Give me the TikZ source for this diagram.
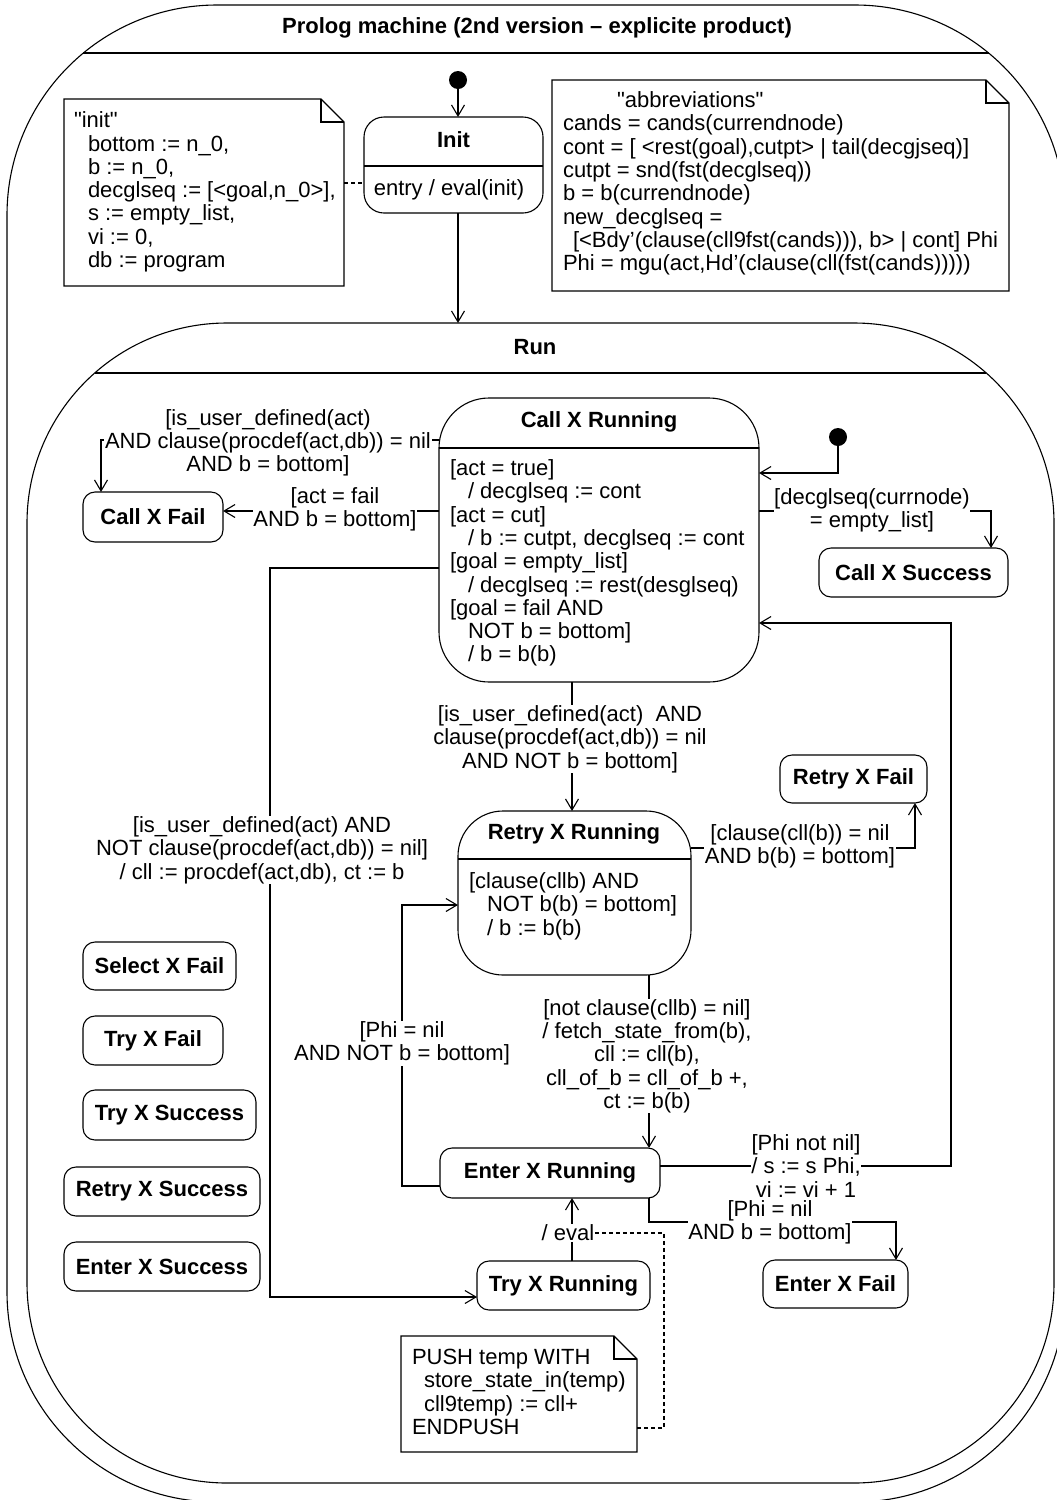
\documentclass[tikz,border=0pt]{standalone}
\usepackage{fontspec}
\setmainfont{Liberation Sans}
\newfontfamily\plainsans{Liberation Sans}
\usetikzlibrary{arrows.meta,calc}

% outline of a UML note with a folded top-right corner, drawn around an empty node
\newcommand{\drawnoteshape}[1]{%
  \draw[ln] (#1.north west) -- ($(#1.north east)+(-23,0)$) -- ($(#1.north east)+(0,23)$)
     -- (#1.south east) -- (#1.south west) -- cycle;
  \draw[ln] ($(#1.north east)+(-23,0)$) |- ($(#1.north east)+(0,23)$);}
% rectangle with circular corners: left, top, right, bottom, radius
\newcommand{\roundframe}[5]{%
  \draw[ln] (#1,#2+#5) arc[start angle=180,end angle=270,radius=#5]
    -- (#3-#5,#2) arc[start angle=270,end angle=360,radius=#5]
    -- (#3,#4-#5) arc[start angle=0,end angle=90,radius=#5]
    -- (#1+#5,#4) arc[start angle=90,end angle=180,radius=#5] -- cycle;}
% straight double quote
\newcommand{\sq}{{\plainsans"}}

\begin{document}
\begin{tikzpicture}[x=1pt, y=-1pt,
  every node/.style={font=\fontsize{22}{23.3}\selectfont, inner sep=0pt, outer sep=0pt},
  ln/.style={line width=1.1pt},
  compound/.style={draw, ln},
  statebox/.style={draw, ln, rounded corners=12pt, minimum height=49pt,
    font=\fontsize{22}{23.3}\selectfont\bfseries},
  titletext/.style={font=\fontsize{22}{23.3}\selectfont\bfseries},
  bodytext/.style={align=left, anchor=west},
  lbl/.style={fill=white, align=center, inner sep=0.6pt},
  trans/.style={ln, -{Straight Barb[length=11pt,width=13pt]}},
  link/.style={ln, dash pattern=on 4pt off 3pt},
  notebox/.style={inner sep=0pt},
  pseudo/.style={circle, fill, minimum size=18pt, inner sep=0pt},
]
\useasboundingbox (0,0) rectangle (1057,1500);
\fill[white] (0,0) rectangle (1057,1500);

% ---- enclosing machine ----
\node[minimum width=1058pt, minimum height=1497pt] (machine) at (536,753.5) {};
\roundframe{7}{5}{1065}{1502}{210}
\draw[ln] (83.4,53) -- (988.6,53);
\node[titletext] (machinetitle) at (537,28) {Prolog machine (2nd version – explicite product)};

% ---- Run composite state ----
\node[minimum width=1027pt, minimum height=1160pt] (run) at (540.5,903) {};
\roundframe{27}{323}{1054}{1483}{200}
\draw[ln] (94.7,373) -- (986.3,373);
\node[titletext] (runtitle) at (535,347) {Run};

% ---- Init ----
\node[pseudo] (initdot) at (458,80) {};
\node[compound, rounded corners=20pt, minimum width=179pt, minimum height=96pt] (initstate) at (453.5,165) {};
\coordinate (inithdr) at (0,166);
\draw[ln] (initstate.west |- inithdr) -- (initstate.east |- inithdr);
\node[titletext] (inittitle) at (453.5,140) {Init};
\node (initentry) at (449,190) {entry / eval(init)};

% ---- notes ----
\node[notebox, minimum width=280pt, minimum height=187pt] (initnote) at (204,192.5) {};
\drawnoteshape{initnote}
\node[bodytext] (initnotetext) at (74,192) {\sq init\sq\\
  \hspace*{14pt}bottom := n\_0,\\
  \hspace*{14pt}b := n\_0,\\
  \hspace*{14pt}decglseq := [<goal,n\_0>],\\
  \hspace*{14pt}s := empty\_list,\\
  \hspace*{14pt}vi := 0,\\
  \hspace*{14pt}db := program};

\node[notebox, minimum width=457pt, minimum height=211pt] (abbrnote) at (780.5,185.5) {};
\drawnoteshape{abbrnote}
\node[bodytext] (abbrtext) at (563,183.5) {\hspace*{54pt}\sq abbreviations\sq\\
  cands = cands(currendnode)\\
  cont = [ <rest(goal),cutpt> | tail(decgjseq)]\\
  cutpt = snd(fst(decglseq))\\
  b = b(currendnode)\\
  new\_decglseq =\\
  \hspace*{10pt}[<Bdy'(clause(cll9fst(cands))), b> | cont] Phi\\
  Phi = mgu(act,Hd'(clause(cll(fst(cands)))))};

\node[notebox, minimum width=236pt, minimum height=116pt] (pushnote) at (519,1394) {};
\drawnoteshape{pushnote}
\node[bodytext] (pushtext) at (412,1392) {PUSH temp WITH\\
  \hspace*{12pt}store\_state\_in(temp)\\
  \hspace*{12pt}cll9temp) := cll+\\
  ENDPUSH};

% ---- Call X Running ----
\node[pseudo] (rundot) at (838,437) {};
\node[compound, rounded corners=50pt, minimum width=320pt, minimum height=284pt] (callrun) at (599,540) {};
\coordinate (callhdr) at (0,448);
\draw[ln] (callrun.west |- callhdr) -- (callrun.east |- callhdr);
\node[titletext] (calltitle) at (599,422) {Call X Running};
\node[bodytext] (callbody) at (450,563) {[act = true]\\
  \hspace*{18pt}/ decglseq := cont\\{}[act = cut]\\
  \hspace*{18pt}/ b := cutpt, decglseq := cont\\{}[goal = empty\_list]\\
  \hspace*{18pt}/ decglseq := rest(desglseq)\\{}[goal = fail AND\\
  \hspace*{18pt}NOT b = bottom]\\
  \hspace*{18pt}/ b = b(b)};

% ---- Retry X Running ----
\node[compound, rounded corners=45pt, minimum width=233pt, minimum height=164pt] (retryrun) at (574.5,893) {};
\coordinate (retryhdr) at (0,859);
\draw[ln] (retryrun.west |- retryhdr) -- (retryrun.east |- retryhdr);
\node[titletext] (retrytitle) at (574,834) {Retry X Running};
\node[bodytext] (retrybody) at (469,906) {[clause(cllb) AND\\
  \hspace*{18pt}NOT b(b) = bottom]\\
  \hspace*{18pt}/ b := b(b)};

% ---- simple states ----
\node[statebox, minimum width=140pt, minimum height=50pt] (callfail) at (153,517) {Call X Fail};
\node[statebox, minimum width=189pt] (callsucc) at (913.5,572.5) {Call X Success};
\node[statebox, minimum width=147pt, minimum height=48pt] (retryfail) at (853.5,779) {Retry X Fail};
\node[statebox, minimum width=220pt, minimum height=50pt] (enterrun) at (550,1173) {Enter X Running};
\node[statebox, minimum width=173pt] (tryrun) at (563.5,1285.5) {Try X Running};
\node[statebox, minimum width=145pt, minimum height=48pt] (enterfail) at (835.5,1284) {Enter X Fail};
\node[statebox, minimum width=153pt, minimum height=48pt] (selfail) at (159.5,966) {Select X Fail};
\node[statebox, minimum width=140pt] (tryfail) at (153,1040.5) {Try X Fail};
\node[statebox, minimum width=173pt, minimum height=50pt] (trysucc) at (169.5,1115) {Try X Success};
\node[statebox, minimum width=196pt] (retrysucc) at (162,1191.5) {Retry X Success};
\node[statebox, minimum width=196pt] (entersucc) at (162,1266.5) {Enter X Success};

% ---- transitions ----
\draw[trans] (initdot) -- (initdot |- initstate.north);
\draw[trans] (initdot |- initstate.south) -- (initdot |- run.north);
\coordinate (notelink) at (354,183);
\draw[link] (initnote.east |- notelink) -- (initstate.west |- notelink);

\coordinate (rundotturn) at (0,473);
\draw[trans] (rundot) |- (callrun.east |- rundotturn);

\coordinate (succturn) at (991,511);
\draw[trans] (callrun.east |- succturn) -| (succturn |- callsucc.north);

\coordinate (failrow) at (0,511);
\draw[trans] (callrun.west |- failrow) -- (callfail.east |- failrow);

\coordinate (failturn) at (101,440);
\draw[trans] (callrun.west |- failturn) -| (failturn |- callfail.north);

\coordinate (tryrow) at (0,568);
\coordinate (tryturn) at (270,1297);
\draw[trans] (callrun.west |- tryrow) -| (tryturn) -- (tryrun.west |- tryturn);

\coordinate (retrycol) at (572,0);
\draw[trans] (callrun.south -| retrycol) -- (retryrun.north -| retrycol);

\coordinate (rfturn) at (915,848);
\draw[trans] (retryrun.east |- rfturn) -| (rfturn |- retryfail.south);

\coordinate (entercol) at (649,0);
\draw[trans] (retryrun.south -| entercol) -- (enterrun.north -| entercol);

\coordinate (backturn) at (402,1186);
\coordinate (backrow) at (0,905);
\draw[trans] (enterrun.west |- backturn) -| (backturn |- backrow) -- (retryrun.west |- backrow);

\coordinate (loopturn) at (951,1166);
\coordinate (looprow) at (0,623);
\draw[trans] (enterrun.east |- loopturn) -| (loopturn |- looprow) -- (callrun.east |- looprow);

\coordinate (efturn) at (896,1222);
\draw[trans] (enterrun.south -| entercol) |- (efturn) -- (efturn |- enterfail.north);

\draw[trans] (tryrun.north -| retrycol) -- (enterrun.south -| retrycol);

% ---- transition labels ----
\node[lbl] (lblfailtop) at (268,443) {[is\_user\_defined(act)\\AND clause(procdef(act,db)) = nil\\AND b = bottom]};
\node[lbl] (lblactfail) at (335,509) {[act = fail\\AND b = bottom]};
\node[lbl] (lblsucc) at (872,510) {[decglseq(currnode)\\= empty\_list]};
\node[lbl] (lblretry) at (570,739) {[is\_user\_defined(act)\ \ AND\\clause(procdef(act,db)) = nil\\AND NOT b = bottom]};
\node[lbl] (lbltry) at (262,850) {[is\_user\_defined(act) AND\\NOT clause(procdef(act,db)) = nil]\\/ cll := procdef(act,db), ct := b};
\node[lbl] (lblretryfail) at (800,846) {[clause(cll(b)) = nil\\AND b(b) = bottom]};
\node[lbl] (lblfetch) at (647,1056) {[not clause(cllb) = nil]\\/ fetch\_state\_from(b),\\cll := cll(b),\\cll\_of\_b = cll\_of\_b +,\\ct := b(b)};
\node[lbl] (lblphinil) at (402,1043) {[Phi = nil\\AND NOT b = bottom]};
\node[lbl] (lblphinotnil) at (806,1166) {[Phi not nil]\\/ s := s Phi,\\vi := vi + 1};
\node[lbl] (lblenterfail) at (770,1222) {[Phi = nil\\AND b = bottom]};
\node[lbl] (lbleval) at (568,1233) {/ eval};

\coordinate (pushturn) at (664,1428);
\draw[link] (lbleval.east) -| (pushturn) -- (pushnote.east |- pushturn);
\end{tikzpicture}
\end{document}
